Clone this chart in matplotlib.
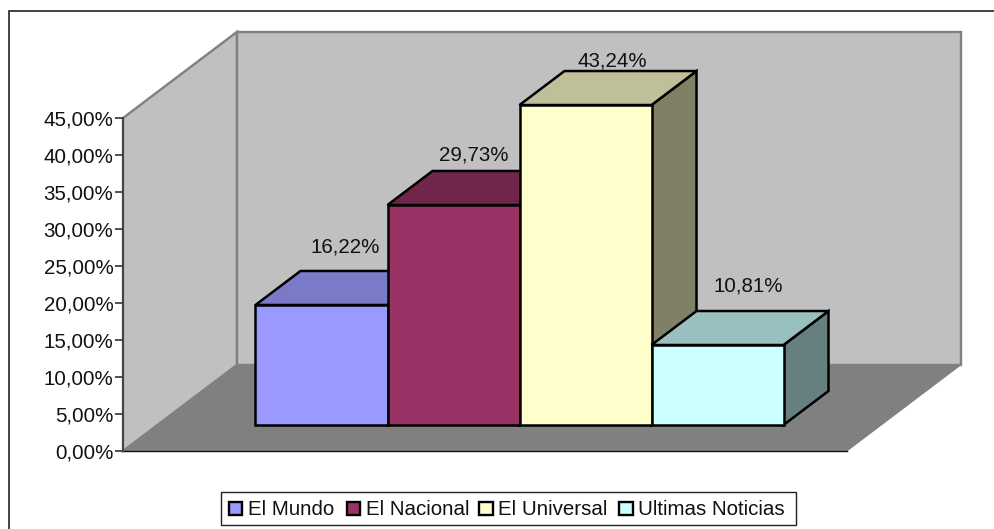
import matplotlib
matplotlib.use("Agg")
import matplotlib.pyplot as plt
from matplotlib.patches import Polygon, Rectangle
from matplotlib.ticker import FuncFormatter

categories = ["El Mundo", "El Nacional", "El Universal", "Ultimas Noticias"]
values = [16.22, 29.73, 43.24, 10.81]
labels = ["16,22%", "29,73%", "43,24%", "10,81%"]
front_colors = ["#9999FF", "#993366", "#FFFFCC", "#CCFFFF"]
top_colors = ["#7A7AC9", "#70264B", "#BFBF99", "#99BFBF"]
side_colors = ["#5C5C99", "#5C1F3D", "#808066", "#668080"]
axis_max = 45
axis_step = 5

W, H = 995, 529
plt.rcParams["font.family"] = ["Liberation Sans", "DejaVu Sans"]
FS = 14.8
TXT = "#111111"
fig = plt.figure(figsize=(W / 100, H / 100), dpi=100, facecolor="white")

# pixel canvas for the frame and the legend
px = fig.add_axes([0, 0, 1, 1])
px.set_xlim(0, W); px.set_ylim(H, 0); px.axis("off")
px.add_patch(Rectangle((8.8, 11), 1100, 1000, fc="white", ec="#222222", lw=1.2))

# plot plane: x in category units, y in percent, depth via shear
PX_PER_CAT, PX_PER_PCT = 132.0, 333 / axis_max
X0, Y0 = 255.5, 425.0
DX, DY = 45.0 / PX_PER_CAT, 34.0 / PX_PER_PCT  # one bar depth

ax = fig.add_axes([0, 0, 1, 1], facecolor="none")
ax.set_xlim(-X0 / PX_PER_CAT, (W - X0) / PX_PER_CAT)
ax.set_ylim((Y0 - H) / PX_PER_PCT, Y0 / PX_PER_PCT)
ax.axis("off")

def P(cat, val, depth):
    return (cat + depth * DX, val + depth * DY)

F_DEPTH, B_DEPTH = -0.765, 1.765
XL, XR = -0.743, 4.74

wall_c, floor_c, edge_c = "#C0C0C0", "#808080", "#808080"
ax.add_patch(Polygon([P(XL, 0, B_DEPTH), P(XL, axis_max, B_DEPTH), P(XR, axis_max, B_DEPTH), P(XR, 0, B_DEPTH)],
                     fc=wall_c, ec=edge_c, lw=1.7, joinstyle="miter"))
ax.add_patch(Polygon([P(XL, 0, F_DEPTH), P(XL, axis_max, F_DEPTH), P(XL, axis_max, B_DEPTH), P(XL, 0, B_DEPTH)],
                     fc=wall_c, ec=edge_c, lw=1.7, joinstyle="miter"))
ax.add_patch(Polygon([P(XL, 0, F_DEPTH), P(XL, 0, B_DEPTH), P(XR, 0, B_DEPTH), P(XR, 0, F_DEPTH)],
                     fc=floor_c, ec=floor_c, lw=0.8, joinstyle="miter"))
ax.plot([P(XL, 0, F_DEPTH)[0], P(XR, 0, F_DEPTH)[0]], [P(XL, 0, F_DEPTH)[1]] * 2, color="#111111", lw=1.0)

# label anchors relative to the back-top centre of each bar, in pixels
label_dx = [-21, -25, -18, -14]
label_dy = [-18, -10, -5, -20]

for i, v in enumerate(values):
    ekw = dict(ec="black", lw=1.8, joinstyle="miter")
    ax.add_patch(Polygon([P(i + 1, 0, 0), P(i + 1, 0, 1), P(i + 1, v, 1), P(i + 1, v, 0)], fc=side_colors[i], **ekw))
    ax.add_patch(Polygon([P(i, v, 0), P(i, v, 1), P(i + 1, v, 1), P(i + 1, v, 0)], fc=top_colors[i], **ekw))
    ax.add_patch(Rectangle((i, 0), 1, v, fc=front_colors[i], **ekw))
    lx, ly = P(i + 0.5, v, 1)
    ax.text(lx + label_dx[i] / PX_PER_CAT, ly - label_dy[i] / PX_PER_PCT, labels[i],
            ha="center", va="baseline", fontsize=FS, color=TXT, zorder=10)

# real value axis
vax = fig.add_axes([123 / W, 1 - 451 / H, 0.0005, 333 / H], facecolor="none")
vax.set_ylim(0, axis_max)
vax.set_xticks([])
vax.set_yticks(list(range(0, axis_max + 1, axis_step)))
vax.yaxis.set_major_formatter(FuncFormatter(lambda y, _: f"{y:.2f}%".replace(".", ",")))
vax.tick_params(axis="y", length=6, width=1.2, color="#333333", labelsize=FS, labelcolor=TXT, pad=1)
for s in ("top", "bottom", "right"):
    vax.spines[s].set_visible(False)
vax.spines["left"].set_linewidth(1.4)
vax.spines["left"].set_color("#444444")

# legend
px.add_patch(Rectangle((221, 492), 575, 32.5, fc="white", ec="#222222", lw=1.0, zorder=5))
swatch_x = [228.5, 346.5, 479, 619]
for sx, name, c in zip(swatch_x, categories, front_colors):
    px.add_patch(Rectangle((sx, 502), 13.5, 13, fc=c, ec="black", lw=1.7, zorder=6))
    px.text(sx + 19.5, 515, name, fontsize=FS, color=TXT, va="baseline", zorder=6)

fig.savefig("out.png", dpi=100)
